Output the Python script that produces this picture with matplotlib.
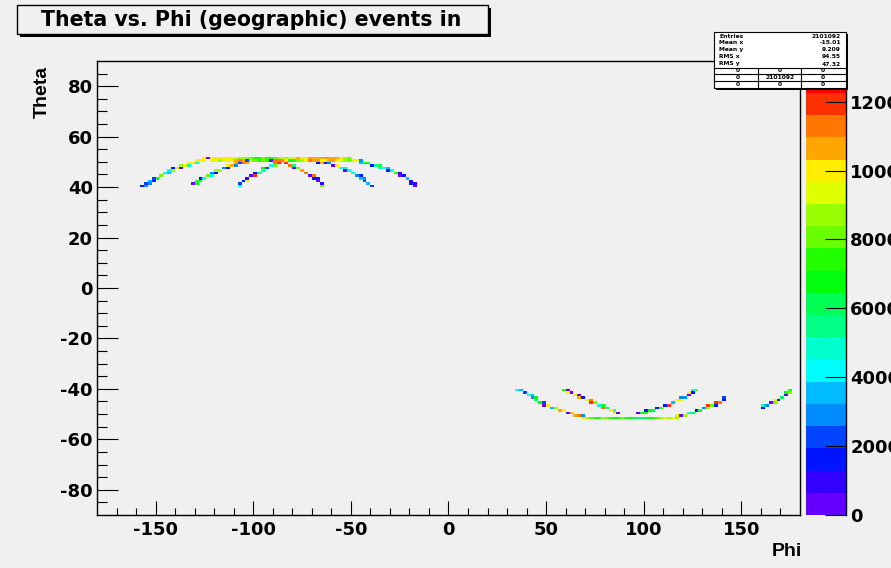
import colorsys
import numpy as np
import matplotlib
matplotlib.use("Agg")
import matplotlib.pyplot as plt
from matplotlib.colors import ListedColormap, BoundaryNorm
from matplotlib.patches import Rectangle

plt.rcParams['font.family'] = ['DejaVu Sans']
plt.rcParams['font.weight'] = 'bold'
plt.rcParams['axes.unicode_minus'] = False
AXFONT = ['Liberation Sans', 'DejaVu Sans']

# ---------------- data (phi bin left edge, theta bin low edge, counts) ----------------
N_OUTER_L_PHI = [-158, -156, -156, -154, -154, -152, -152, -150, -148, -146, -144, -144, -142, -142,
                 -140, -138, -138, -136, -134, -134, -132, -130, -130, -128, -126, -126, -124]
N_OUTER_L_THETA = [40, 40, 41, 41, 42, 42, 43, 43, 44, 45, 45, 46, 46, 47, 47, 47, 48, 48, 48, 49, 49,
                   49, 50, 50, 50, 51, 51]
N_OUTER_L_COUNTS = [1500, 2800, 2200, 2800, 3400, 1500, 2200, 6500, 7900, 4000, 3400, 4600, 8600, 1500,
                    9300, 300, 8600, 9300, 4600, 9900, 9900, 4000, 9900, 9900, 9900, 9900, 300]

N_BAND_PHI = list(range(-122, -50, 2))
N_BAND_TOP = [9900, 9900, 9900, 9900, 9900, 9300, 9300, 8600, 8600, 8600, 7900, 7100, 7100, 7900, 7100,
              7100, 7900, 8600, 9300, 8600, 9300, 9900, 10500, 9900, 9900, 10500, 10500, 10500, 10500,
              10500, 10500, 10500, 10500, 9900, 8600, 7900]
N_BAND_LOW = [9300, 9300, 8600, 9300, 9900, 9900, 10500, 11200, 10500, 2200, 8600, 7900, 7100, 7900,
              7100, 300, 11200, 11800, 11200, 10500, 6500, 7100, 7900, 8600, 9900, 11200, 10500, 1500,
              9300, 9900, 10500, 10500, 9900, 9300, 8600, 7900]

N_OUTER_R_PHI = [-50, -48, -46, -46, -44, -42, -40, -38, -36, -36, -34, -32, -32, -30, -28, -26, -26,
                 -24, -22, -20, -20, -18, -18]
N_OUTER_R_THETA = [50, 50, 49, 50, 49, 49, 48, 48, 47, 48, 47, 46, 47, 46, 45, 44, 45, 44, 43, 41, 42,
                   40, 41]
N_OUTER_R_COUNTS = [9900, 9300, 3400, 2800, 7100, 6500, 1500, 5300, 4600, 5900, 4000, 1500, 3400, 4000,
                    7100, 300, 900, 1500, 3400, 1500, 900, 300, 900]

N_INNER_L_PHI = [-132, -130, -130, -128, -128, -126, -124, -122, -122, -120, -120, -118, -116, -114,
                 -114, -112, -110, -110, -108, -106, -104]
N_INNER_L_THETA = [41, 41, 42, 42, 43, 43, 44, 44, 45, 45, 46, 46, 47, 47, 48, 48, 48, 49, 49, 49, 49]
N_INNER_L_COUNTS = [300, 6500, 7100, 5900, 1500, 4600, 7900, 4000, 2800, 1500, 8600, 8600, 2800, 1500,
                    9900, 10500, 2800, 10500, 2200, 11200, 10500]

N_PEAK_PHI = [-108, -108, -106, -104, -104, -102, -100, -100, -98, -96, -96, -94, -92, -90, -90, -88,
              -88, -86, -84, -84, -82, -80, -80, -78, -76, -74, -72, -70, -70, -68, -68, -66, -66]
N_PEAK_THETA = [40, 41, 42, 42, 43, 44, 44, 45, 45, 46, 47, 47, 48, 48, 49, 49, 50, 50, 49, 50, 48, 47,
                48, 47, 46, 45, 44, 43, 44, 42, 43, 41, 40]
N_PEAK_COUNTS = [4000, 2200, 1500, 9300, 900, 300, 11800, 1500, 5900, 4600, 6500, 2200, 4000, 7900,
                 11200, 11800, 11200, 11200, 11800, 9900, 11200, 300, 5300, 7900, 10500, 11200, 300,
                 1500, 11200, 300, 900, 900, 7900]

N_INNER_R_PHI = [-72, -70, -68, -68, -66, -64, -62, -60, -58, -56, -54, -54, -52, -50, -48, -46, -46,
                 -44, -44, -42, -40]
N_INNER_R_THETA = [50, 50, 49, 50, 49, 49, 49, 48, 48, 47, 46, 47, 46, 45, 44, 43, 44, 42, 43, 41, 40]
N_INNER_R_COUNTS = [11200, 10500, 1500, 10500, 10500, 1500, 2800, 300, 9900, 4000, 300, 4600, 4000,
                    4600, 2800, 3400, 1500, 2200, 2800, 3400, 2200]

S_OUTER_L_PHI = [34, 36, 38, 40, 42, 42, 44, 44, 46, 48, 48, 50, 52, 54, 56, 58, 60, 62, 64, 66, 68, 68]
S_OUTER_L_THETA = [-41, -41, -42, -43, -43, -44, -44, -45, -46, -46, -47, -47, -48, -48, -49, -49, -50,
                   -50, -51, -51, -51, -52]
S_OUTER_L_COUNTS = [4000, 3400, 2200, 4000, 3400, 2800, 6500, 5900, 6500, 2200, 300, 9900, 3400, 8600,
                    10500, 9900, 300, 10500, 10500, 11200, 2800, 9900]

S_BAND_PHI = list(range(70, 118, 2))
S_BAND_ROW = [8600, 7900, 7100, 7100, 8600, 7900, 7100, 6500, 7100, 7900, 7100, 6500, 5900, 5300, 5300,
              5900, 6500, 7100, 7900, 8600, 9300, 8600, 9300, 8600]

S_INNER_L_PHI = [58, 60, 60, 62, 64, 66, 66, 68, 70, 72, 72, 74, 76, 78, 78, 80, 82, 84, 84, 86]
S_INNER_L_THETA = [-41, -41, -42, -42, -43, -43, -44, -44, -45, -45, -46, -46, -47, -47, -48, -48, -49,
                   -49, -50, -50]
S_INNER_L_COUNTS = [7100, 300, 9900, 300, 9900, 300, 10500, 1500, 9300, 11200, 11800, 7900, 4600, 6500,
                    11200, 5300, 9900, 4000, 9900, 300]

S_INNER_R_PHI = [96, 98, 100, 100, 102, 104, 106, 108, 110, 112, 114, 116, 118, 118, 120, 122, 122, 124,
                 124, 126]
S_INNER_R_THETA = [-50, -50, -50, -49, -49, -49, -48, -48, -47, -47, -46, -45, -45, -44, -44, -43, -42,
                   -42, -41, -41]
S_INNER_R_COUNTS = [300, 6500, 7100, 1500, 6500, 5900, 1500, 7100, 1500, 11800, 3400, 9300, 9900, 2800,
                    2800, 300, 9900, 1500, 4000, 7900]

S_OUTER_R_PHI = [116, 118, 120, 122, 124, 126, 128, 130, 132, 132, 134, 136, 136, 138, 140, 140]
S_OUTER_R_THETA = [-51, -51, -51, -50, -50, -49, -49, -48, -48, -47, -47, -47, -46, -46, -45, -44]
S_OUTER_R_COUNTS = [9900, 300, 8600, 4600, 5900, 1500, 7100, 2800, 8600, 11800, 7900, 1500, 11800, 11200,
                    1500, 2200]

S_FAR_R_PHI = [160, 160, 162, 164, 166, 166, 168, 170, 172, 172, 174, 174]
S_FAR_R_THETA = [-48, -47, -47, -46, -46, -45, -45, -44, -43, -42, -42, -41]
S_FAR_R_COUNTS = [1500, 4600, 2800, 300, 7900, 9900, 1500, 5900, 300, 6500, 8600, 7100]

X_TICKS = [-150, -100, -50, 0, 50, 100, 150]
Y_TICKS = [-80, -60, -40, -20, 0, 20, 40, 60, 80]
Z_TICKS = [0, 2000, 4000, 6000, 8000, 10000, 12000]
STATS_LABELS = ["Entries", "Mean x", "Mean y", "RMS x", "RMS y"]
STATS_VALUES = ["2101092", "-15.01", "9.209", "94.55", "47.32"]
STATS_TABLE = [["0", "0", "0"], ["0", "2101092", "0"], ["0", "0", "0"]]
TITLE = "Theta vs. Phi (geographic) events in"

# ---------------- histogram grid ----------------
phi_edges = np.arange(-180, 182, 2)
theta_edges = np.arange(-90, 91, 1)
H = np.zeros((len(theta_edges) - 1, len(phi_edges) - 1))


def fill(phis, thetas, counts):
    for p, t, c in zip(phis, thetas, counts):
        H[t + 90, (p + 180) // 2] = c


fill(N_BAND_PHI, [51] * len(N_BAND_PHI), N_BAND_TOP)
fill(N_BAND_PHI, [50] * len(N_BAND_PHI), N_BAND_LOW)
fill(N_OUTER_L_PHI, N_OUTER_L_THETA, N_OUTER_L_COUNTS)
fill(N_OUTER_R_PHI, N_OUTER_R_THETA, N_OUTER_R_COUNTS)
fill(N_INNER_L_PHI, N_INNER_L_THETA, N_INNER_L_COUNTS)
fill(N_PEAK_PHI, N_PEAK_THETA, N_PEAK_COUNTS)
fill(N_INNER_R_PHI, N_INNER_R_THETA, N_INNER_R_COUNTS)
fill(S_BAND_PHI, [-52] * len(S_BAND_PHI), S_BAND_ROW)
fill(S_OUTER_L_PHI, S_OUTER_L_THETA, S_OUTER_L_COUNTS)
fill(S_INNER_L_PHI, S_INNER_L_THETA, S_INNER_L_COUNTS)
fill(S_INNER_R_PHI, S_INNER_R_THETA, S_INNER_R_COUNTS)
fill(S_OUTER_R_PHI, S_OUTER_R_THETA, S_OUTER_R_COUNTS)
fill(S_FAR_R_PHI, S_FAR_R_THETA, S_FAR_R_COUNTS)

# ROOT "pretty" palette (50 colours, HLS) sampled for 20 contour levels
NCONT = 20
pal = []
for i in range(50):
    hue = 280.0 - (i + 1) * (280.0 / 50)
    pal.append(colorsys.hls_to_rgb(hue / 360.0, 0.5, 1.0))
level_colors = [pal[int(0.01 + (k + 0.99) * 50 / NCONT)] for k in range(NCONT)]
ZCONT = 12900.0
ZTOP = 12340.0
levels = np.linspace(0, ZCONT, NCONT + 1)
cmap = ListedColormap(level_colors)
norm = BoundaryNorm(levels, NCONT)

# ---------------- figure ----------------
W, Hh = 891, 568
BG = '#f0f0f0'
fig = plt.figure(figsize=(W / 100, Hh / 100), dpi=100, facecolor=BG)


def fx(x):
    return x / W


def fy(y):
    return 1 - y / Hh


FL, FR, FT, FB = 97, 800, 61, 515
ax = fig.add_axes([fx(FL), fy(FB), (FR - FL) / W, (FB - FT) / Hh])
ax.set_facecolor(BG)
Hm = np.ma.masked_where(H <= 0, H)
ax.pcolormesh(phi_edges, theta_edges, Hm, cmap=cmap, norm=norm, antialiased=False, edgecolors='none')
ax.set_xlim(-180, 180)
ax.set_ylim(-90, 90)
ax.set_xticks(X_TICKS)
ax.set_yticks(Y_TICKS)
ax.set_xticks(np.arange(-170, 180, 10), minor=True)
ax.set_yticks(np.arange(-85, 90, 5), minor=True)
ax.tick_params(axis='x', which='major', direction='in', length=9.8, width=0.8, labelsize=13, pad=4,
               top=False)
ax.tick_params(axis='x', which='minor', direction='in', length=5, width=0.8, top=False)
ax.tick_params(axis='y', which='major', direction='in', length=15, width=0.8, labelsize=13, pad=3,
               right=False)
ax.tick_params(axis='y', which='minor', direction='in', length=7.5, width=0.8, right=False)
for lab in ax.get_xticklabels() + ax.get_yticklabels():
    lab.set_fontweight('bold')
for s in ax.spines.values():
    s.set_linewidth(1.0)

fig.text(fx(42), fy(66), 'Theta', rotation=90, ha='center', va='top', fontsize=14, fontweight='bold',
         family=AXFONT)
fig.text(fx(802), fy(551), 'Phi', ha='right', va='center', fontsize=14, fontweight='bold', family=AXFONT)

# colour bar (palette axis)
cax = fig.add_axes([fx(806), fy(FB), 40 / W, (FB - 90) / Hh])
for k in range(NCONT):
    cax.axhspan(levels[k], levels[k + 1], color=level_colors[k], lw=0)
cax.set_ylim(0, ZTOP)
cax.set_xlim(0, 1)
cax.set_xticks([])
cax.yaxis.tick_right()
cax.set_yticks(Z_TICKS)
cax.set_yticklabels([str(v) for v in Z_TICKS])
cax.tick_params(axis='y', direction='in', length=15, width=0.8, labelsize=13, pad=3)
for lab in cax.get_yticklabels():
    lab.set_fontweight('bold')
for side in ['left', 'top', 'bottom']:
    cax.spines[side].set_visible(False)
cax.spines['right'].set_linewidth(1.0)

# title box with shadow
fig.patches.append(Rectangle((fx(20), fy(36.5)), (488 - 17) / W, (33.5 - 5) / Hh, transform=fig.transFigure,
                             facecolor='black', edgecolor='none', zorder=5))
fig.patches.append(Rectangle((fx(17), fy(33.5)), (488 - 17) / W, (33.5 - 5) / Hh, transform=fig.transFigure,
                             facecolor=BG, edgecolor='black', lw=1.0, zorder=6))
fig.text(fx(251), fy(19.5), TITLE, ha='center', va='center', fontsize=14.8, fontweight='bold', zorder=7)

# statistics box with shadow
SX0, SX1, SY0, SY1 = 714, 846, 32, 88
fig.patches.append(Rectangle((fx(SX0 + 2), fy(SY1 + 2)), (SX1 - SX0) / W, (SY1 - SY0) / Hh,
                             transform=fig.transFigure, facecolor='black', edgecolor='none', zorder=5))
fig.patches.append(Rectangle((fx(SX0), fy(SY1)), (SX1 - SX0) / W, (SY1 - SY0) / Hh,
                             transform=fig.transFigure, facecolor='white', edgecolor='black', lw=0.8,
                             zorder=6))
row_y = [36, 43, 49.5, 57, 64]
for lbl, val, yy in zip(STATS_LABELS, STATS_VALUES, row_y):
    fig.text(fx(719), fy(yy), lbl, ha='left', va='center', fontsize=4.3, fontweight='bold', zorder=7)
    fig.text(fx(841), fy(yy), val, ha='right', va='center', fontsize=4.3, fontweight='bold', zorder=7)
for yy in [67.5, 74, 81]:
    fig.lines.append(plt.Line2D([fx(SX0), fx(SX1)], [fy(yy), fy(yy)], transform=fig.transFigure,
                                color='black', lw=0.8, zorder=7))
for xx in [758, 801]:
    fig.lines.append(plt.Line2D([fx(xx), fx(xx)], [fy(67.5), fy(SY1)], transform=fig.transFigure,
                                color='black', lw=0.8, zorder=7))
tab_x = [738, 780, 823]
tab_y = [70.8, 77.5, 84.5]
for r, yy in enumerate(tab_y):
    for c, xx in enumerate(tab_x):
        fig.text(fx(xx), fy(yy), STATS_TABLE[r][c], ha='center', va='center', fontsize=4.3,
                 fontweight='bold', zorder=7)

fig.savefig('out.png', dpi=100, facecolor=BG)
